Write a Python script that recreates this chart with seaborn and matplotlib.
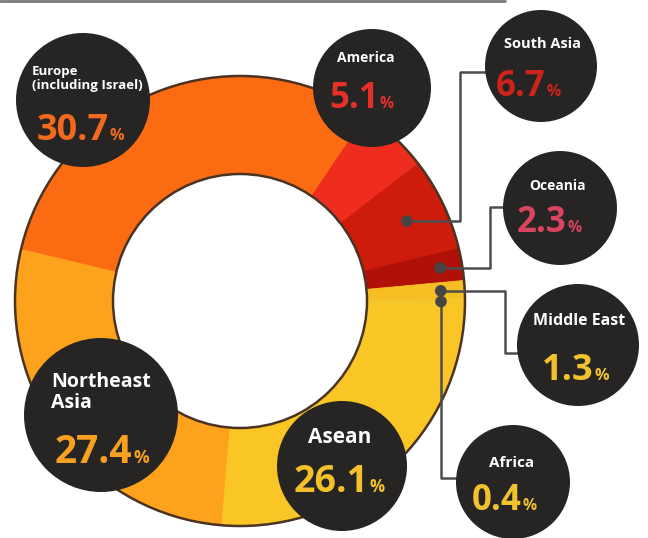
import matplotlib
matplotlib.use("Agg")
import matplotlib.pyplot as plt
from matplotlib.patches import Circle
import seaborn as sns
import numpy as np

# --- data (clockwise from the America wedge) ---
regions = ["America", "South Asia", "Oceania", "Middle East", "Africa",
           "Asean", "Northeast Asia", "Europe"]
shares = [5.1, 6.7, 2.3, 1.3, 0.4, 26.1, 27.4, 30.7]
label_lines = [["America"], ["South Asia"], ["Oceania"], ["Middle East"], ["Africa"],
               ["Asean"], ["Northeast", "Asia"], ["Europe", "(including Israel)"]]
seg_colors = ["#EE2D1E", "#CD1B0C", "#B01008", "#F6BE22", "#F7C42A",
              "#F9C626", "#FDA21C", "#FB6C12"]
num_colors = ["#E5302A", "#CC2418", "#D9455E", "#F2C12E", "#F2C12E",
              "#F5C12B", "#F8A020", "#F26A1E"]

# --- layout (pixel coords, y measured from the top) ---
W, H = 648, 538
CX, CY, R_OUT, R_IN = 240, 301, 225, 127
START = 56

bubbles = {  # cx, cy, r
    "America": (372, 88, 59), "South Asia": (541, 66, 56), "Oceania": (560, 208, 57),
    "Middle East": (578, 345, 61), "Africa": (513, 482, 57), "Asean": (342, 466, 65),
    "Northeast Asia": (101, 415, 77), "Europe": (83, 100, 67),
}
labels_at = {  # x, first baseline, line step, size, ha
    "America": (366, 62, 0, 10, "center"), "South Asia": (542, 48, 0, 10.5, "center"),
    "Oceania": (557, 190, 0, 10, "center"), "Middle East": (579, 325, 0, 11.5, "center"),
    "Africa": (512, 467, 0, 11, "center"), "Asean": (340, 443, 0, 15, "center"),
    "Northeast Asia": (51, 387, 21, 14, "left"), "Europe": (32, 75, 13.5, 9.5, "left"),
}
numbers_at = {  # x left, baseline, size
    "America": (329, 108, 25), "South Asia": (496, 96, 25), "Oceania": (517, 232, 25),
    "Middle East": (542, 380, 26), "Africa": (472, 510, 25), "Asean": (294, 492, 27),
    "Northeast Asia": (55, 463, 28), "Europe": (37, 140, 26),
}
dot_radius = {"South Asia": 185, "Oceania": 203, "Middle East": 201, "Africa": 201}
connectors = {  # bends after the dot
    "South Asia": lambda x, y: [(460, y), (460, 72), (492, 72)],
    "Oceania": lambda x, y: [(490, y), (490, 207), (510, 207)],
    "Middle East": lambda x, y: [(505, y), (505, 353), (522, 353)],
    "Africa": lambda x, y: [(x, 478), (462, 478)],
}

sns.set_theme(style="white")
plt.rcParams['font.family'] = ['Open Sans', 'DejaVu Sans']


def Y(y):
    return H - y


fig = plt.figure(figsize=(W / 100, H / 100), dpi=100)
ax = fig.add_axes([0, 0, 1, 1])

wedges, _ = ax.pie(shares, colors=seg_colors, startangle=START, counterclock=False,
                   radius=R_OUT, center=(CX, Y(CY)),
                   wedgeprops=dict(width=R_OUT - R_IN, linewidth=0.6))
for w in wedges:
    w.set_edgecolor(w.get_facecolor())
    w.set_zorder(1)
ax.add_patch(Circle((CX, Y(CY)), R_OUT, fill=False, ec="#4a3322", lw=1.8, zorder=2))
ax.add_patch(Circle((CX, Y(CY)), R_IN, fill=False, ec="#4a3322", lw=1.8, zorder=2))

# connector lines and dots, placed at each wedge's middle angle
cum = np.cumsum([0] + shares[:-1])
dots_x, dots_y = [], []
for name, before, share in zip(regions, cum, shares):
    if name not in dot_radius:
        continue
    ang = np.deg2rad(START - 360 * (before + share / 2) / 100)
    dx = CX + dot_radius[name] * np.cos(ang)
    dy = CY - dot_radius[name] * np.sin(ang)
    pts = [(dx, dy)] + connectors[name](dx, dy)
    ax.plot([p[0] for p in pts], [Y(p[1]) for p in pts], color="#4d4d4d", lw=1.8,
            solid_joinstyle="round", solid_capstyle="round", zorder=3)
    dots_x.append(dx)
    dots_y.append(Y(dy))
sns.scatterplot(x=dots_x, y=dots_y, ax=ax, s=70, color="#454545", edgecolor="none",
                zorder=4, legend=False)

# bubbles with labels
num_texts = []
for name, lines, ncol, share in zip(regions, label_lines, num_colors, shares):
    bx, by, br = bubbles[name]
    ax.add_patch(Circle((bx, Y(by)), br, fc="#262524", ec="none", zorder=5))
    lx, ly, step, fs, ha = labels_at[name]
    for i, line in enumerate(lines):
        ax.text(lx, Y(ly + i * step), line, color="white", fontsize=fs,
                fontweight="bold", ha=ha, va="baseline", zorder=6)
    nx, ny, nfs = numbers_at[name]
    t = ax.text(nx, Y(ny), f"{share:.1f}", color=ncol, fontsize=nfs,
                fontweight="bold", ha="left", va="baseline", zorder=6)
    num_texts.append((t, ncol, ny, nfs))

ax.plot([0, 505], [Y(1), Y(1)], color="#7a7a7a", lw=2, zorder=0)

ax.set_xlim(0, W)
ax.set_ylim(0, H)
ax.set_aspect("auto")
ax.axis("off")

# small % sign right after each number
fig.canvas.draw()
for t, ncol, ny, nfs in num_texts:
    bb = t.get_window_extent()
    ax.text(bb.x1 + 0.5, Y(ny), "%", color=ncol, fontsize=nfs * 0.45,
            fontweight="bold", ha="left", va="baseline", zorder=6)

fig.savefig("out.png", dpi=100, facecolor="white")
